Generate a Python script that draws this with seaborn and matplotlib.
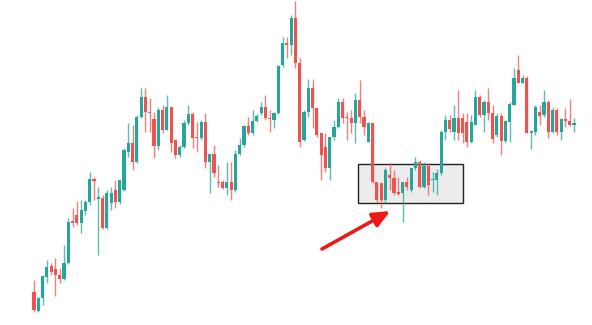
import numpy as np
import pandas as pd
import seaborn as sns
import matplotlib
matplotlib.use("Agg")
import matplotlib.pyplot as plt
from matplotlib.patches import Rectangle

opens = [33, 14, 27, 48, 59, 56, 50, 46, 62, 104, 110, 102, 114, 123, 146, 126, 127, 97, 122, 135,
         123, 135, 173, 182, 163, 208, 228, 213, 206, 179, 215, 195, 218, 185, 170, 178, 202, 211, 188, 187,
         203, 163, 171, 143, 143, 137, 143, 135, 171, 180, 199, 192, 204, 212, 218, 207, 205, 212, 260, 282,
         280, 307, 262, 185, 213, 237, 217, 192, 178, 157, 188, 198, 223, 208, 207, 202, 225, 208, 183, 202,
         143, 142, 125, 150, 147, 133, 132, 143, 135, 157, 163, 138, 159, 145, 145, 152, 193, 205, 193, 207,
         207, 203, 183, 200, 228, 210, 223, 212, 190, 209, 184, 203, 220, 255, 242, 247, 192, 193, 213, 210,
         223, 193, 215, 193, 206, 204, 200]
closes = [15, 27, 49, 58, 53, 50, 46, 62, 103, 102, 102, 115, 123, 146, 144, 128, 97, 132, 132, 123,
          145, 175, 182, 163, 208, 228, 213, 212, 179, 215, 195, 218, 182, 170, 178, 202, 211, 187, 187, 203,
          163, 171, 152, 142, 137, 143, 135, 171, 180, 199, 192, 204, 209, 218, 207, 206, 212, 259, 282, 280,
          307, 262, 183, 213, 237, 217, 190, 170, 157, 188, 198, 223, 207, 207, 202, 225, 208, 198, 202, 143,
          125, 125, 155, 147, 132, 131, 143, 138, 157, 163, 138, 159, 140, 146, 152, 193, 205, 196, 207, 192,
          192, 183, 203, 228, 210, 223, 212, 186, 209, 184, 204, 221, 247, 242, 247, 192, 194, 218, 209, 223,
          193, 215, 193, 206, 204, 200, 202]
highs = [45, 28, 50, 65, 62, 67, 57, 80, 107, 117, 124, 125, 125, 153, 148, 138, 130, 135, 138, 145,
         145, 177, 202, 200, 210, 237, 237, 227, 213, 218, 220, 230, 218, 185, 180, 205, 220, 213, 203, 205,
         212, 171, 180, 160, 145, 163, 163, 175, 187, 200, 208, 215, 211, 223, 230, 215, 213, 260, 288, 288,
         310, 324, 267, 215, 246, 246, 217, 192, 192, 188, 205, 227, 227, 213, 215, 232, 245, 215, 203, 202,
         143, 142, 157, 162, 155, 148, 143, 148, 157, 168, 165, 163, 162, 153, 156, 195, 210, 210, 220, 235,
         212, 212, 210, 235, 230, 225, 237, 220, 212, 212, 205, 223, 257, 270, 250, 249, 195, 220, 220, 235,
         225, 218, 217, 207, 217, 226, 207]
lows = [13, 13, 20, 42, 50, 29, 42, 45, 61, 98, 100, 92, 110, 120, 125, 70, 96, 96, 115, 117,
        121, 134, 168, 155, 162, 207, 193, 193, 167, 175, 192, 195, 173, 167, 168, 177, 200, 177, 173, 185,
        157, 132, 148, 138, 136, 130, 125, 133, 170, 178, 190, 190, 203, 210, 205, 193, 197, 211, 258, 267,
        270, 257, 178, 184, 208, 197, 188, 145, 153, 145, 185, 197, 202, 185, 192, 182, 202, 190, 183, 142,
        123, 117, 122, 135, 130, 130, 103, 135, 133, 155, 137, 137, 130, 133, 130, 150, 185, 193, 185, 185,
        182, 178, 182, 200, 208, 193, 205, 182, 188, 170, 182, 183, 220, 242, 242, 192, 176, 190, 200, 208,
        187, 192, 190, 185, 198, 199, 193]

box_x = [75.6, 100.1]
box_y = [122, 161]
arrow_start = (67.2, 76)
arrow_end = (83.1, 114)

GREEN = "#26a69a"
RED = "#ef5350"

sns.set_theme(style="white")
df = pd.DataFrame({"open": opens, "close": closes, "high": highs, "low": lows})
df["idx"] = np.arange(len(df))
df["up"] = df["close"] >= df["open"]
df["color"] = np.where(df["up"], GREEN, RED)
df["bottom"] = np.minimum(df["open"], df["close"])
df["height"] = np.maximum(np.abs(df["close"] - df["open"]), 1.5)

fig = plt.figure(figsize=(5.92, 3.25), dpi=100)
ax = fig.add_axes([0, 0, 1, 1])
ax.set_axis_off()

ax.vlines(df["idx"], df["low"], df["high"], colors=df["color"], linewidth=1.0, alpha=0.75, zorder=2)
ax.bar(df["idx"], df["height"], bottom=df["bottom"], color=df["color"], width=0.72,
       linewidth=0, zorder=3)

ax.add_patch(Rectangle((box_x[0], box_y[0]), box_x[1] - box_x[0], box_y[1] - box_y[0],
                       facecolor="#ececec", edgecolor="#222222", linewidth=1.0, zorder=1))

ax.annotate("", xy=arrow_end, xytext=arrow_start,
            arrowprops=dict(arrowstyle="-|>,head_length=0.85,head_width=0.38", color="#ee1a1a",
                            linewidth=2.6, shrinkA=0, shrinkB=0), zorder=4)

px = 540 / 126
ax.set_xlim(-34 / px, (592 - 34) / px)
ax.set_ylim(0, 325)

fig.savefig("out.png", dpi=100, facecolor="white")
